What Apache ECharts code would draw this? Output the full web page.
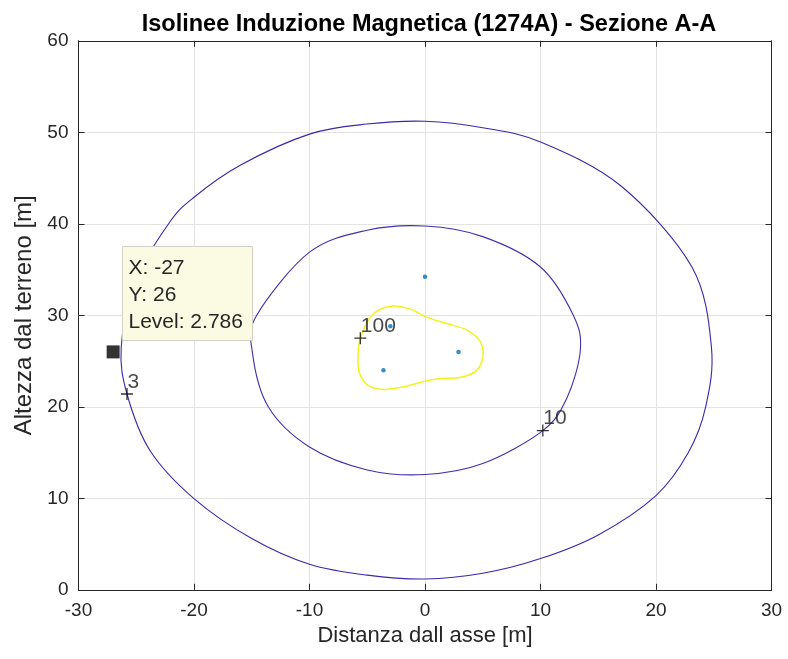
<!DOCTYPE html>
<html>
<head>
<meta charset="utf-8">
<script src="https://cdn.jsdelivr.net/npm/echarts@6/dist/echarts.min.js"></script>
<style>html,body{margin:0;padding:0;background:#fff}#c{width:788px;height:659px}</style>
</head>
<body>
<div id="c"></div>
<script>
// ---- data ----
var titleText = 'Isolinee Induzione Magnetica (1274A) - Sezione A-A';
var xName = 'Distanza dall asse [m]';
var yName = 'Altezza dal terreno [m]';
var xTicks = [-30, -20, -10, 0, 10, 20, 30];
var yTicks = [0, 10, 20, 30, 40, 50, 60];

// contour level 3 (outer, closed loop)
var level3 = [
  [24.8, 26.5], [23.1, 35.3], [17.0, 44.1], [10.0, 48.94], [5.0, 50.5], [0.0, 51.2],
  [-5.0, 50.9], [-10.0, 49.8], [-16.0, 46.4], [-20.0, 42.9], [-22.2, 40.0], [-25.2, 33.5],
  [-26.3, 26.5], [-25.8, 21.4], [-23.8, 15.2], [-20.0, 9.97], [-15.0, 5.6], [-10.0, 2.79],
  [-5.0, 1.6], [0.0, 1.18], [5.0, 1.8], [10.0, 3.41], [15.0, 6.0], [20.0, 10.3],
  [22.8, 15.0], [24.3, 20.0]
];
// contour level 10 (middle, closed loop)
var level10 = [
  [13.45, 26.2], [12.84, 30.0], [10.0, 35.28], [5.0, 38.6], [0.0, 39.76], [-5.0, 39.3],
  [-10.0, 36.9], [-14.57, 30.0], [-14.95, 26.0], [-13.57, 20.0], [-10.0, 15.6],
  [-5.0, 13.1], [0.0, 12.6], [5.0, 13.8], [10.2, 17.4], [12.3, 21.0]
];
// contour level 100 (inner, closed loop)
var level100 = [
  [-5.8, 25.4], [-5.6, 27.5], [-4.6, 30.0], [-3.0, 31.0], [-1.3, 30.7], [0.1, 29.8],
  [1.9, 29.1], [3.6, 28.4], [4.8, 27.1], [5.0, 25.4], [4.4, 23.9], [3.0, 23.2],
  [1.3, 23.1], [0.0, 22.8], [-1.8, 22.2], [-3.6, 21.9], [-5.0, 22.4], [-5.7, 23.8]
];
// conductor positions
var conductors = [[0.0, 34.2], [-3.0, 28.8], [2.9, 26.0], [-3.6, 24.0]];
// contour label positions and their level values
var labelX = [-25.8, 10.2, -5.6];
var labelY = [21.4, 17.4, 27.5];
var labelLevel = [3, 10, 100];
// data tip
var tipX = -27, tipY = 26, tipLevel = 2.786;

var chart = echarts.init(document.getElementById('c'), null, {renderer: 'canvas'});
var FONT = '"Liberation Sans", Arial, sans-serif';
var AX = '#262626';

// closed contour: points mapped through the axes, joined by a closed Catmull-Rom curve
function closedCurvePath(pix) {
  var n = pix.length, d = 'M' + pix[0][0] + ' ' + pix[0][1];
  for (var i = 0; i < n; i++) {
    var p0 = pix[(i - 1 + n) % n], p1 = pix[i], p2 = pix[(i + 1) % n], p3 = pix[(i + 2) % n];
    var c1x = p1[0] + (p2[0] - p0[0]) / 6, c1y = p1[1] + (p2[1] - p0[1]) / 6;
    var c2x = p2[0] - (p3[0] - p1[0]) / 6, c2y = p2[1] - (p3[1] - p1[1]) / 6;
    d += ' C' + c1x + ' ' + c1y + ' ' + c2x + ' ' + c2y + ' ' + p2[0] + ' ' + p2[1];
  }
  return d + ' Z';
}
function contour(name, pts, color, w) {
  return {
    name: name, type: 'custom', data: pts, z: 3, silent: true, animation: false,
    renderItem: function (params, api) {
      if (params.dataIndex !== 0) return null;
      var pix = pts.map(function (p) { return api.coord(p); });
      return {
        type: 'path',
        shape: {pathData: closedCurvePath(pix)},
        style: {fill: null, stroke: color, lineWidth: w}
      };
    }
  };
}

var labelData = labelX.map(function (x, i) { return [x, labelY[i], labelLevel[i]]; });

var option = {
  animation: false,
  backgroundColor: '#ffffff',
  title: {
    text: titleText, left: 424, top: 8, textAlign: 'center',
    textStyle: {fontFamily: FONT, fontSize: 23.5, fontWeight: 'bold', color: '#000'}
  },
  grid: {left: 78.5, right: 16.5, top: 40.8, bottom: 69.2, show: false},
  xAxis: [{
    type: 'value', min: -30, max: 30, interval: 10, position: 'bottom',
    name: xName, nameLocation: 'middle', nameGap: 31,
    nameTextStyle: {fontFamily: FONT, fontSize: 22, color: AX},
    axisLine: {show: true, onZero: false, lineStyle: {color: AX, width: 1}},
    axisTick: {show: true, inside: true, length: 6, lineStyle: {color: AX}},
    axisLabel: {fontFamily: FONT, fontSize: 19, color: AX, margin: 11,
      formatter: function (v) { return xTicks.indexOf(v) >= 0 ? String(v) : ''; }},
    splitLine: {show: true, lineStyle: {color: '#e3e3e3', width: 1}}
  }, {
    type: 'value', min: -30, max: 30, interval: 10, position: 'top',
    axisLine: {show: true, onZero: false, lineStyle: {color: AX, width: 1}},
    axisTick: {show: true, inside: true, length: 6, lineStyle: {color: AX}},
    axisLabel: {show: false}, splitLine: {show: false}
  }],
  yAxis: [{
    type: 'value', min: 0, max: 60, interval: 10, position: 'left',
    name: yName, nameLocation: 'middle', nameGap: 34, nameRotate: 90,
    nameTextStyle: {fontFamily: FONT, fontSize: 24, color: AX},
    axisLine: {show: true, onZero: false, lineStyle: {color: AX, width: 1}},
    axisTick: {show: true, inside: true, length: 6, lineStyle: {color: AX}},
    axisLabel: {fontFamily: FONT, fontSize: 19, color: AX, margin: 10,
      formatter: function (v) { return yTicks.indexOf(v) >= 0 ? String(v) : ''; }},
    splitLine: {show: true, lineStyle: {color: '#e3e3e3', width: 1}}
  }, {
    type: 'value', min: 0, max: 60, interval: 10, position: 'right',
    axisLine: {show: true, onZero: false, lineStyle: {color: AX, width: 1}},
    axisTick: {show: true, inside: true, length: 6, lineStyle: {color: AX}},
    axisLabel: {show: false}, splitLine: {show: false}
  }],
  series: [
    contour('3', level3, '#3E26A8', 1.1),
    contour('10', level10, '#4030AC', 1.1),
    contour('100', level100, '#F2F21E', 1.5),
    {
      type: 'scatter', data: conductors, symbol: 'circle', symbolSize: 4.5,
      itemStyle: {color: '#0072BD'}, z: 4, silent: true
    },
    {
      type: 'scatter', data: labelData,
      symbol: 'path://M0,5L10,5M5,0L5,10', symbolSize: 12,
      itemStyle: {color: 'none', borderColor: '#000', borderWidth: 1.3}, z: 5, silent: true,
      label: {
        show: true, position: [9, 7], align: 'left', verticalAlign: 'bottom',
        fontFamily: FONT, fontSize: 21, color: '#1a1a1a',
        formatter: function (p) { return String(p.value[2]); }
      }
    },
    {
      type: 'scatter', data: [[tipX, tipY]], symbol: 'rect', symbolSize: 13,
      itemStyle: {color: '#000'}, z: 10, silent: true
    }
  ]
};
chart.setOption(option);

// data tip box, anchored to the data-tip point through the axes
var tp = chart.convertToPixel({xAxisIndex: 0, yAxisIndex: 0}, [tipX, tipY]);
var bx = Math.round(tp[0] + 9) + 0.5, by = Math.round(tp[1] - 106) + 0.5;
chart.setOption({
  graphic: [{
    type: 'group', z: 100, x: bx, y: by,
    children: [{
      type: 'rect', shape: {x: 0, y: 0, width: 130, height: 94},
      style: {fill: '#FBFBE3', stroke: '#d2d2c4', lineWidth: 1}, z: 100
    }, {
      type: 'text', x: 6, y: 8, z: 101,
      style: {
        text: 'X: ' + tipX + '\nY: ' + tipY + '\nLevel: ' + tipLevel,
        font: '21px ' + FONT, fill: '#262626', lineHeight: 27
      }
    }]
  }]
});
</script>
</body>
</html>
